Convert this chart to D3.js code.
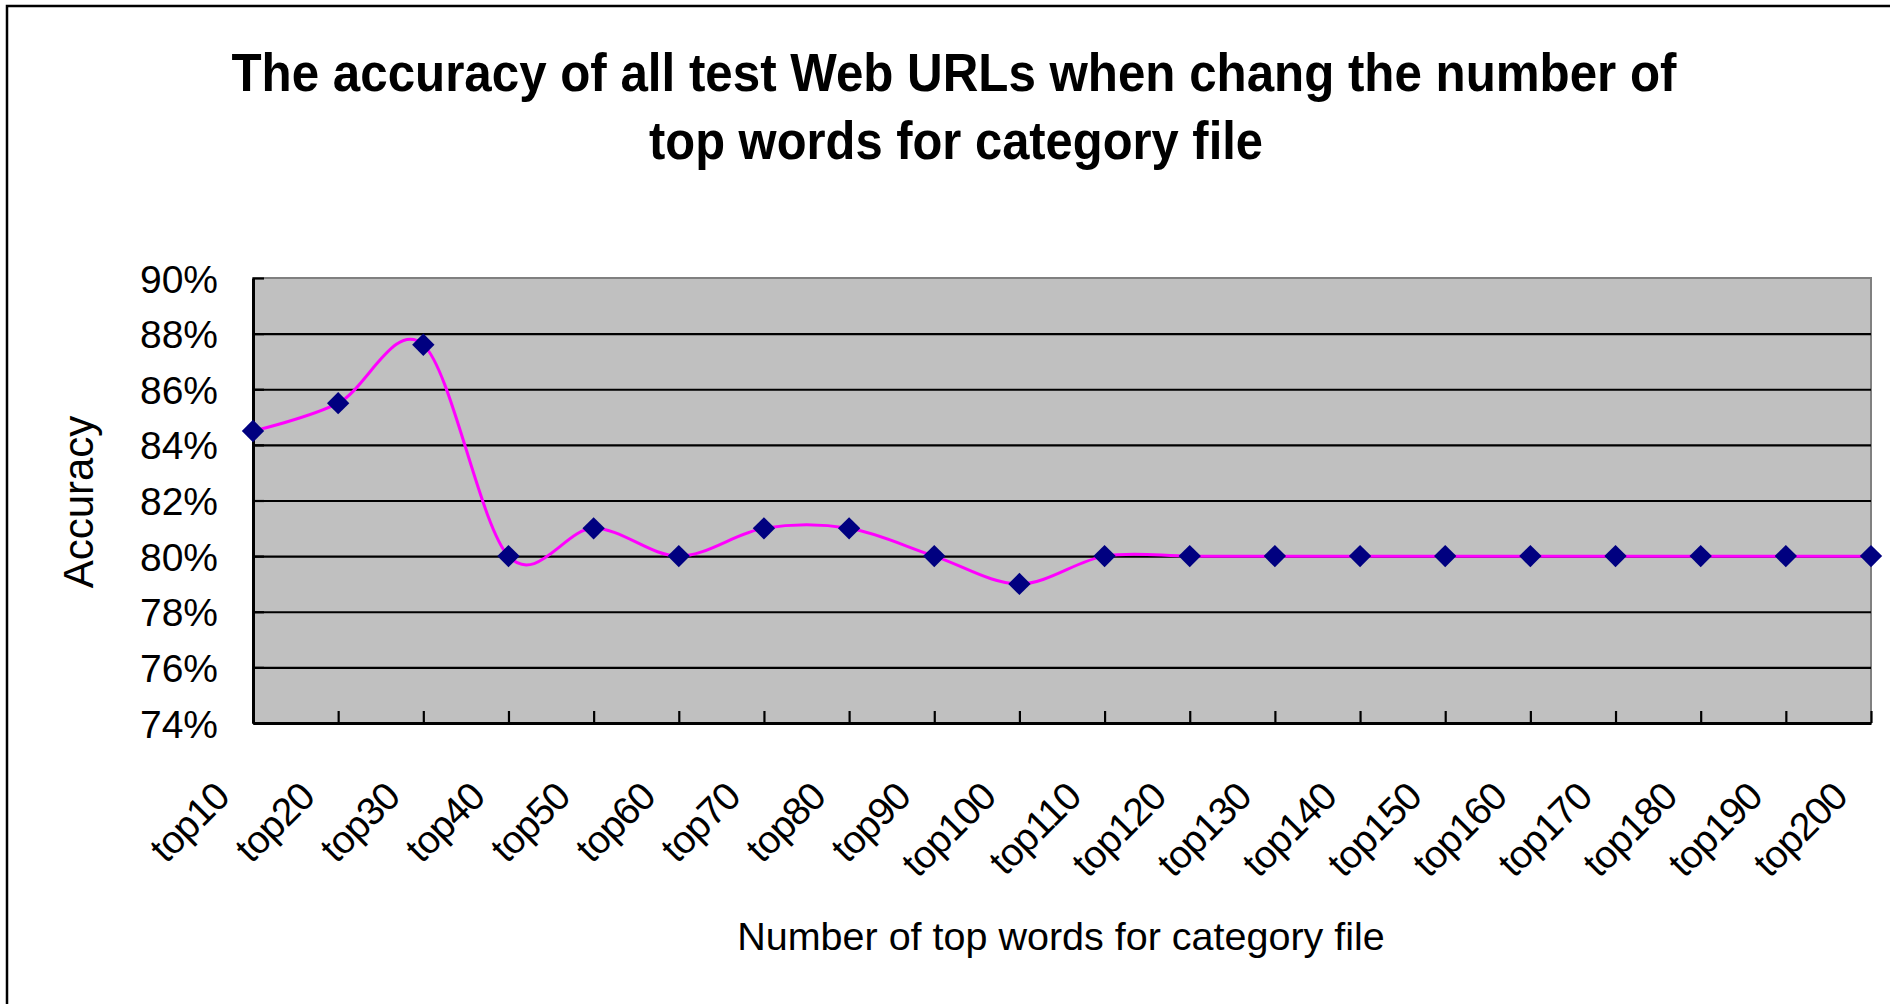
<!DOCTYPE html>
<html>
<head>
<meta charset="utf-8">
<script src="https://cdn.jsdelivr.net/npm/d3@7"></script>
<style>
  body { margin: 0; background: #fff; }
  svg text { font-family: "Liberation Sans", Arial, sans-serif; fill: #000; }
</style>
</head>
<body>
<script>
// chart data
var categories = ['top10', 'top20', 'top30', 'top40', 'top50', 'top60', 'top70', 'top80', 'top90', 'top100',
  'top110', 'top120', 'top130', 'top140', 'top150', 'top160', 'top170', 'top180', 'top190', 'top200'];
var accuracy = [84.5, 85.5, 87.6, 80, 81, 80, 81, 81, 80, 79,
  80, 80, 80, 80, 80, 80, 80, 80, 80, 80];
var yTicks = [74, 76, 78, 80, 82, 84, 86, 88, 90];
var titleLines = ['The accuracy of all test Web URLs when chang the number of', 'top words for category file'];

var chartVars = {
  width: 1890,
  height: 1004,
  left: 253,
  right: 1871,
  top: 278,
  bottom: 723
};

var svg = d3.select('body').append('svg').attr('width', chartVars.width).attr('height', chartVars.height);

// outer chart border (runs off the right and bottom edges)
svg.append('rect').attr('x', 7).attr('y', 6).attr('width', 1900).attr('height', 1010)
  .attr('fill', 'none').attr('stroke', '#000').attr('stroke-width', 2.5);

// title
svg.append('text').attr('x', 954).attr('y', 91).attr('text-anchor', 'middle')
  .attr('font-size', 54).attr('font-weight', 'bold')
  .attr('textLength', 1445).attr('lengthAdjust', 'spacingAndGlyphs').text(titleLines[0]);
svg.append('text').attr('x', 956).attr('y', 159).attr('text-anchor', 'middle')
  .attr('font-size', 54).attr('font-weight', 'bold')
  .attr('textLength', 614).attr('lengthAdjust', 'spacingAndGlyphs').text(titleLines[1]);

var x = d3.scalePoint().domain(categories).range([chartVars.left, chartVars.right]);
var y = d3.scaleLinear().domain([74, 90]).range([chartVars.bottom, chartVars.top]);

// plot area
svg.append('rect').attr('x', chartVars.left).attr('y', chartVars.top)
  .attr('width', chartVars.right - chartVars.left).attr('height', chartVars.bottom - chartVars.top)
  .attr('fill', '#c0c0c0').attr('stroke', '#808080').attr('stroke-width', 2);

// gridlines
var grid = svg.append('g').attr('transform', 'translate(' + chartVars.left + ',0)')
  .call(d3.axisLeft(y).tickValues(yTicks.slice(1, -1)).tickSize(-(chartVars.right - chartVars.left)).tickFormat(''));
grid.select('.domain').remove();
grid.selectAll('line').attr('stroke', '#000').attr('stroke-width', 2.2);

// series line, Excel style smoothing
var line = d3.line()
  .x(function(d, i) { return x(categories[i]); })
  .y(function(d) { return y(d); })
  .curve(d3.curveCardinal.tension(0));
svg.append('path').datum(accuracy).attr('d', line)
  .attr('fill', 'none').attr('stroke', '#ff00ff').attr('stroke-width', 3);

// y axis
var yAxis = svg.append('g').attr('transform', 'translate(' + chartVars.left + ',0)')
  .call(d3.axisLeft(y).tickValues(yTicks).tickSizeInner(-11).tickSizeOuter(0).tickPadding(35)
    .tickFormat(function(d) { return d + '%'; }));
yAxis.select('.domain').attr('stroke', '#000').attr('stroke-width', 3);
yAxis.selectAll('line').attr('stroke', '#000').attr('stroke-width', 2.2);
yAxis.selectAll('text').attr('font-size', 39).attr('dy', '0.36em');

// x axis
var xAxis = svg.append('g').attr('transform', 'translate(0,' + chartVars.bottom + ')')
  .call(d3.axisBottom(x).tickSizeInner(-12).tickSizeOuter(0));
xAxis.select('.domain').attr('stroke', '#000').attr('stroke-width', 3);
xAxis.selectAll('line').attr('stroke', '#000').attr('stroke-width', 2.2);
xAxis.selectAll('text').attr('font-size', 39).attr('text-anchor', 'end')
  .attr('x', 0).attr('y', 0).attr('dy', 0).attr('letter-spacing', -1)
  .attr('transform', 'translate(-22,76) rotate(-45)');

// markers
svg.append('g').selectAll('path').data(accuracy).enter().append('path')
  .attr('d', d3.symbol(d3.symbolSquare, 250))
  .attr('transform', function(d, i) { return 'translate(' + x(categories[i]) + ',' + y(d) + ') rotate(45)'; })
  .attr('fill', '#000080');

// axis titles
svg.append('text').attr('transform', 'translate(93,502) rotate(-90)').attr('text-anchor', 'middle')
  .attr('font-size', 42).text('Accuracy');
svg.append('text').attr('x', 1061).attr('y', 950).attr('text-anchor', 'middle')
  .attr('font-size', 39.5).text('Number of top words for category file');
</script>
</body>
</html>
